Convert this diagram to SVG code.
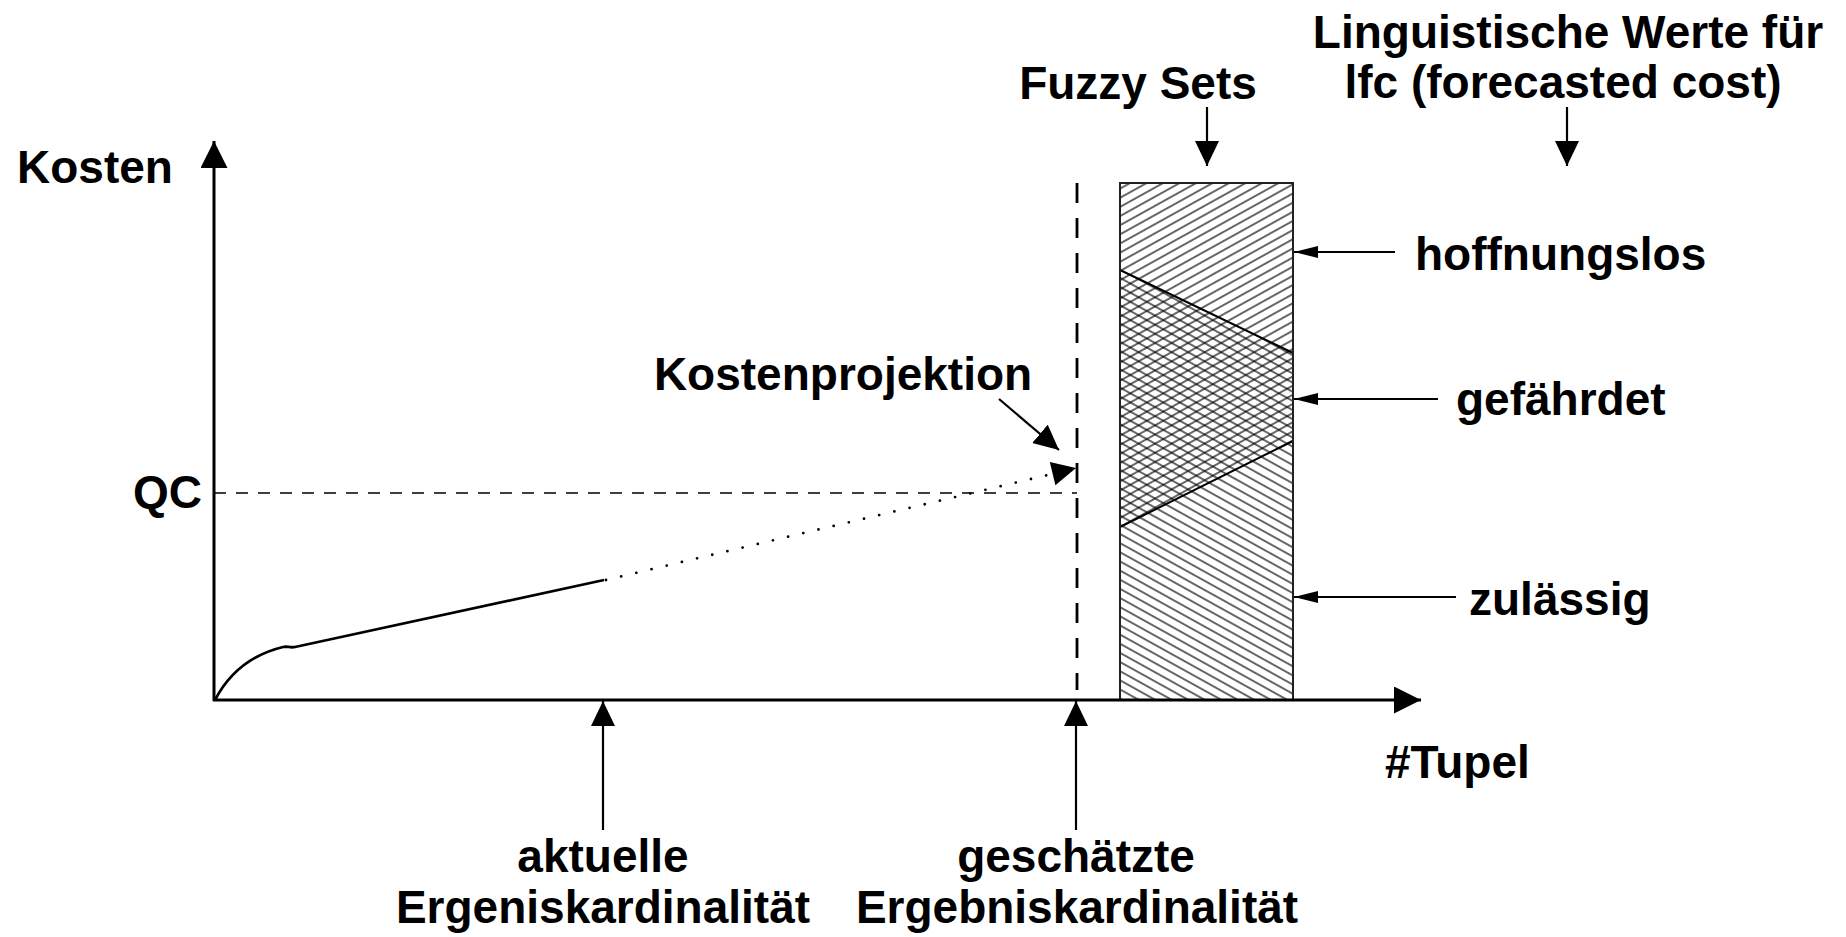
<svg xmlns="http://www.w3.org/2000/svg" width="1846" height="937" viewBox="0 0 1846 937">
  <style>
    text { font-family: "Liberation Sans", Arial, sans-serif; font-weight: bold; font-size: 46px; fill: #000; }
    .mid { text-anchor: middle; }
    .end { text-anchor: end; }
    .axis { stroke: #000; stroke-width: 3; fill: none; }
    .arrow { stroke: #000; stroke-width: 2.2; fill: none; }
    .curve { stroke: #000; stroke-width: 2.8; fill: none; stroke-linejoin: round; }
    .dots { stroke: #000; stroke-width: 2.8; fill: none; stroke-linecap: round; stroke-dasharray: 0 15.6; }
    .qc { stroke: #000; stroke-width: 1.4; fill: none; stroke-dasharray: 12 10; }
    .vdash { stroke: #000; stroke-width: 2.8; fill: none; stroke-dasharray: 20 15; }
    .border { stroke: #222; stroke-width: 2; fill: none; }
    .divide { stroke: #000; stroke-width: 2; fill: none; }
  </style>
  <defs>
    <marker id="headBig" markerUnits="userSpaceOnUse" markerWidth="28" markerHeight="28" refX="27" refY="13.5" orient="auto">
      <path d="M0,0 L27,13.5 L0,27 Z" fill="#000"/>
    </marker>
    <marker id="headMid" markerUnits="userSpaceOnUse" markerWidth="26" markerHeight="25" refX="25" refY="12" orient="auto">
      <path d="M0,0 L25,12 L0,24 Z" fill="#000"/>
    </marker>
    <marker id="headSlim" markerUnits="userSpaceOnUse" markerWidth="25" markerHeight="13" refX="24" refY="6" orient="auto">
      <path d="M0,0 L24,6 L0,12 Z" fill="#000"/>
    </marker>
    <pattern id="hatchRise" patternUnits="userSpaceOnUse" width="12" height="8" patternTransform="rotate(-29)">
      <line x1="0" y1="4" x2="12" y2="4" stroke="#000" stroke-width="1.2"/>
    </pattern>
    <pattern id="hatchFall" patternUnits="userSpaceOnUse" width="12" height="8" patternTransform="rotate(29)">
      <line x1="0" y1="4" x2="12" y2="4" stroke="#000" stroke-width="1.2"/>
    </pattern>
  </defs>

  <rect x="0" y="0" width="1846" height="937" fill="#fff"/>

  <!-- fuzzy sets bar: hoffnungslos hatched "/", zulässig hatched "\", overlap cross-hatched -->
  <g id="fuzzy-sets">
    <polygon points="1120,183 1293,183 1293,441 1120,527" fill="url(#hatchRise)"/>
    <polygon points="1120,270 1293,353 1293,700 1120,700" fill="url(#hatchFall)"/>
    <line class="divide" x1="1120" y1="270" x2="1293" y2="353"/>
    <line class="divide" x1="1120" y1="527" x2="1293" y2="441"/>
    <rect class="border" x="1120" y="183" width="173" height="517"/>
  </g>

  <!-- reference lines -->
  <g id="guides">
    <line class="qc" x1="214" y1="493" x2="1077" y2="493"/>
    <line class="vdash" x1="1077" y1="183" x2="1077" y2="690"/>
  </g>

  <!-- cost curve: measured part solid, projection dotted -->
  <g id="cost-curve">
    <path class="curve" d="M215,700 C228,675 250,655 283,647 C287,646 290,648 295,647 L604,580"/>
    <path class="dots" d="M606,580 L1052,474"/>
    <path d="M1076,468 L1049.8,461.9 L1055.4,485.3 Z" fill="#000"/>
  </g>

  <g id="axes">
    <line class="axis" x1="214" y1="701" x2="214" y2="141" marker-end="url(#headBig)"/>
    <line class="axis" x1="213" y1="700" x2="1421" y2="700" marker-end="url(#headBig)"/>
  </g>

  <g id="connectors">
    <line class="arrow" x1="999" y1="399" x2="1059" y2="450" marker-end="url(#headMid)"/>
    <line class="arrow" x1="1207" y1="107" x2="1207" y2="166" marker-end="url(#headMid)"/>
    <line class="arrow" x1="1567" y1="107" x2="1567" y2="166" marker-end="url(#headMid)"/>
    <line class="arrow" x1="603" y1="830" x2="603" y2="701" marker-end="url(#headMid)"/>
    <line class="arrow" x1="1076" y1="830" x2="1076" y2="701" marker-end="url(#headMid)"/>
    <line class="arrow" x1="1395" y1="252" x2="1294" y2="252" marker-end="url(#headSlim)"/>
    <line class="arrow" x1="1438" y1="399" x2="1294" y2="399" marker-end="url(#headSlim)"/>
    <line class="arrow" x1="1456" y1="597" x2="1294" y2="597" marker-end="url(#headSlim)"/>
  </g>

  <g id="label-kosten"><text x="17" y="183">Kosten</text></g>
  <g id="label-qc"><text class="end" x="202" y="508">QC</text></g>
  <g id="label-tupel"><text x="1385" y="778">#Tupel</text></g>
  <g id="label-projektion"><text class="mid" x="843" y="390">Kostenprojektion</text></g>
  <g id="label-fuzzy"><text class="mid" x="1138" y="99">Fuzzy Sets</text></g>
  <g id="label-lfc">
    <text class="mid" x="1568" y="48">Linguistische Werte für</text>
    <text class="mid" x="1563" y="98">lfc (forecasted cost)</text>
  </g>
  <g id="label-hoffnungslos"><text x="1415" y="270">hoffnungslos</text></g>
  <g id="label-gefaehrdet"><text x="1456" y="415">gefährdet</text></g>
  <g id="label-zulaessig"><text x="1469" y="615">zulässig</text></g>
  <g id="label-aktuell">
    <text class="mid" x="603" y="872">aktuelle</text>
    <text class="mid" x="603" y="923">Ergeniskardinalität</text>
  </g>
  <g id="label-geschaetzt">
    <text class="mid" x="1076" y="872">geschätzte</text>
    <text class="mid" x="1077" y="923">Ergebniskardinalität</text>
  </g>
</svg>
